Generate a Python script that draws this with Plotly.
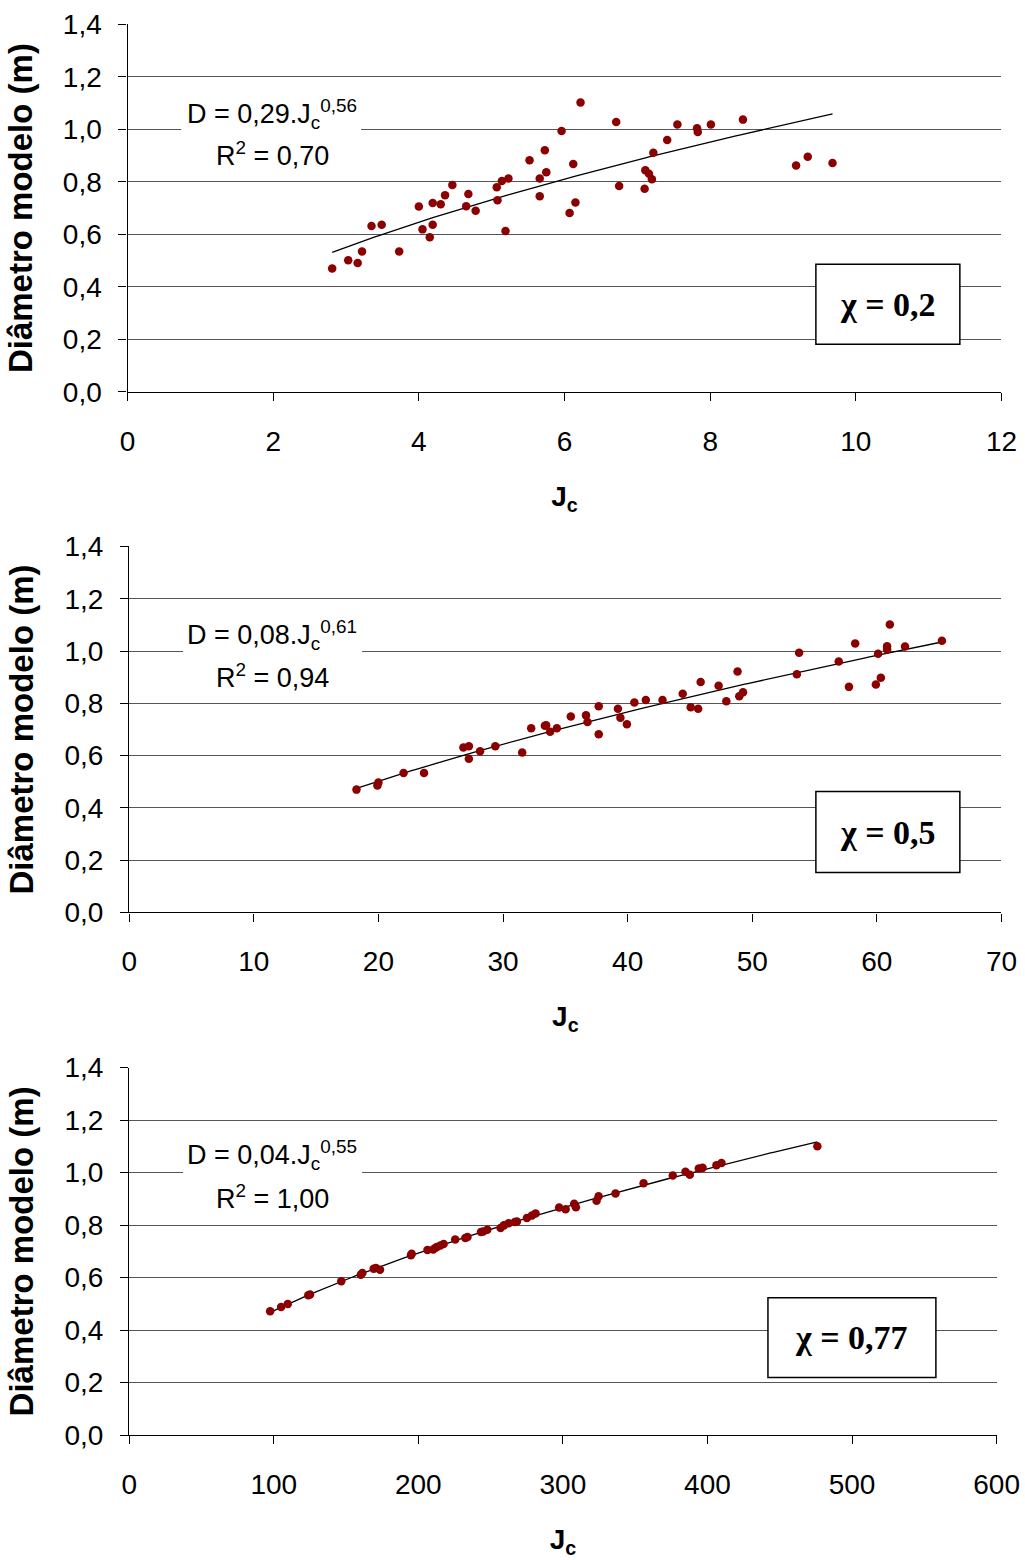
import numpy as np
import plotly.graph_objects as go

# ---------------- data ----------------
# Panel 1 (chi = 0,2)
J1 = [2.81, 3.03, 3.16, 3.22, 3.35, 3.49, 3.73, 4.00, 4.05, 4.15, 4.19, 4.19, 4.30, 4.36, 4.46,
      4.65, 4.68, 4.78, 5.07, 5.08, 5.14, 5.19, 5.23, 5.52, 5.66, 5.66, 5.73, 5.75, 5.96, 6.07,
      6.12, 6.15, 6.22, 6.71, 6.75, 7.10, 7.11, 7.16, 7.20, 7.22, 7.41, 7.55, 7.82, 7.83, 8.01,
      8.45, 9.18, 9.34, 9.68]
D1 = [0.470, 0.501, 0.491, 0.535, 0.632, 0.637, 0.535, 0.706, 0.619, 0.589, 0.719, 0.637, 0.715,
      0.749, 0.788, 0.707, 0.754, 0.690, 0.779, 0.730, 0.803, 0.613, 0.813, 0.882, 0.745, 0.813,
      0.920, 0.837, 0.994, 0.681, 0.868, 0.721, 1.102, 1.028, 0.784, 0.774, 0.844, 0.831, 0.810,
      0.911, 0.959, 1.018, 1.004, 0.990, 1.018, 1.037, 0.862, 0.896, 0.872]

# Panel 2 (chi = 0,5)
J2 = [18.24, 19.92, 20.00, 22.02, 23.66, 26.82, 27.26, 27.26, 28.16, 29.38, 31.54, 32.26, 33.36,
      33.46, 33.78, 34.32, 35.44, 36.66, 36.78, 37.68, 37.68, 39.22, 39.42, 39.94, 40.54, 41.46,
      42.80, 44.42, 45.06, 45.66, 45.86, 47.30, 47.92, 48.82, 48.96, 49.26, 53.58, 53.76, 56.94,
      57.76, 58.26, 59.92, 60.10, 60.32, 60.82, 60.82, 61.04, 62.26, 65.22]
D2 = [0.470, 0.486, 0.497, 0.534, 0.534, 0.631, 0.636, 0.588, 0.617, 0.636, 0.612, 0.705, 0.714,
      0.716, 0.691, 0.705, 0.750, 0.754, 0.729, 0.789, 0.682, 0.779, 0.745, 0.720, 0.803, 0.813,
      0.813, 0.837, 0.785, 0.779, 0.882, 0.867, 0.808, 0.922, 0.827, 0.842, 0.911, 0.994, 0.960,
      0.863, 1.029, 0.872, 0.990, 0.898, 1.018, 1.006, 1.102, 1.017, 1.039]

# Panel 3 (chi = 0,77)
J3 = [97.5, 105.1, 109.7, 123.9, 125.1, 146.7, 160.2, 161.3, 169.1, 170.7, 173.5, 194.9, 195.4,
      206.3, 210.3, 211.9, 212.9, 215.2, 217.5, 225.5, 232.5, 234.0, 243.3, 244.9, 247.7, 256.9,
      259.2, 262.5, 266.8, 268.2, 275.1, 278.6, 281.1, 297.4, 301.9, 307.8, 309.0, 323.3, 324.7,
      336.4, 355.8, 376.0, 384.8, 387.8, 394.0, 396.6, 406.2, 409.7, 476.0]
D3 = [0.472, 0.488, 0.500, 0.533, 0.536, 0.586, 0.611, 0.618, 0.634, 0.637, 0.630, 0.685, 0.691,
      0.705, 0.707, 0.714, 0.717, 0.722, 0.728, 0.745, 0.751, 0.755, 0.774, 0.776, 0.782, 0.789,
      0.799, 0.807, 0.812, 0.814, 0.827, 0.837, 0.844, 0.867, 0.860, 0.881, 0.868, 0.893, 0.910,
      0.920, 0.959, 0.989, 1.003, 0.992, 1.016, 1.018, 1.028, 1.037, 1.100]

EQ_LINE1 = ["D = 0,29.J<sub>c</sub><sup>0,56</sup>",
            "D = 0,08.J<sub>c</sub><sup>0,61</sup>",
            "D = 0,04.J<sub>c</sub><sup>0,55</sup>"]
EQ_LINE2 = ["R<sup>2</sup> = 0,70", "R<sup>2</sup> = 0,94", "R<sup>2</sup> = 1,00"]
CHI_LABELS = ["χ = 0,2", "χ = 0,5", "χ = 0,77"]
X_RANGES = [(0, 12, 2), (0, 70, 10), (0, 600, 100)]

W, H = 1040, 1568

# layout in figure pixels: plot areas (left, right, top, bottom)
AREAS = [(123.2, 1024, 9.5, 384.5), (124.9, 1024, 542.2, 915.6), (124.9, 1019, 1073.8, 1448.8)]
CHI_BOXES = [(832.7, 981.1, 254.4, 336.0), (832.7, 981.1, 792.2, 874.8),
             (783.3, 956.4, 1308.5, 1390.1)]
EQ_BOXES = [(178.5, 363.9, 81.0, 160.5), (180.5, 365.0, 611.6, 693.2),
            (180.5, 365.0, 1142.2, 1223.8)]
EQ_ROWS = [(101.3, 142.2), (632.0, 674.8), (1162.6, 1205.4)]
EQ_X = [272.2, 272.2, 272.2]


def px(x):
    return x / W


def py(y):
    return 1 - y / H


MARKER_COLOR = "#8B0000"
FONT = "Liberation Sans, Arial, sans-serif"

fig = go.Figure()
panels = [(J1, D1), (J2, D2), (J3, D3)]

for i, (J, D) in enumerate(panels):
    n = "" if i == 0 else str(i + 1)
    xa, ya = "x" + n, "y" + n
    Ja, Da = np.array(J), np.array(D)
    # Excel-style power trendline (log-log least squares)
    b, lna = np.polyfit(np.log(Ja), np.log(Da), 1)
    xs = np.linspace(Ja.min(), Ja.max(), 200)
    ys = np.exp(lna) * xs ** b
    fig.add_trace(go.Scatter(x=xs, y=ys, mode="lines", xaxis=xa, yaxis=ya,
                             line=dict(color="black", width=1.3), showlegend=False,
                             hoverinfo="skip"))
    fig.add_trace(go.Scatter(x=J, y=D, mode="markers", xaxis=xa, yaxis=ya,
                             marker=dict(color=MARKER_COLOR, size=8.5), showlegend=False))

    l, r, t, btm = AREAS[i]
    x0, x1, dx = X_RANGES[i]
    fig.layout["xaxis" + n] = dict(
        domain=[px(l), px(r)], range=[x0, x1], dtick=dx, tick0=0, anchor=ya,
        showgrid=False, zeroline=False, showline=True, linecolor="black", linewidth=1.3,
        ticks="outside", ticklen=8, tickcolor="black", tickwidth=1,
        ticklabelstandoff=16, ticklabeloverflow="allow",
        tickfont=dict(family=FONT, size=28, color="black"),
        title=dict(text="<b>J<sub>c</sub></b>", standoff=30,
                   font=dict(family=FONT, size=28, color="black")),
        fixedrange=True,
    )
    fig.layout["yaxis" + n] = dict(
        domain=[py(btm), py(t)], range=[0, 1.4], dtick=0.2, tick0=0, anchor=xa,
        tickformat=".1f",
        showgrid=True, gridcolor="#555555", gridwidth=1,
        zeroline=False, showline=True, linecolor="black", linewidth=1.3,
        ticks="outside", ticklen=8, tickcolor="black", tickwidth=1,
        ticklabelstandoff=11, ticklabeloverflow="allow",
        tickfont=dict(family=FONT, size=28, color="black"),
        title=dict(text="<b>Diâmetro modelo (m)</b>", standoff=20,
                   font=dict(family=FONT, size=33, color="black")),
        fixedrange=True,
    )

    # equation label: white panel hiding the gridline, then two text rows
    el, er, et, eb = EQ_BOXES[i]
    fig.add_shape(type="rect", xref="paper", yref="paper",
                  x0=px(el), x1=px(er), y0=py(eb), y1=py(et),
                  line=dict(width=0), fillcolor="white", layer="above")
    for txt, ry in ((EQ_LINE1[i], EQ_ROWS[i][0]), (EQ_LINE2[i], EQ_ROWS[i][1])):
        fig.add_annotation(x=px(EQ_X[i]), y=py(ry), xref="paper", yref="paper",
                           text=txt, showarrow=False, align="center",
                           font=dict(family=FONT, size=27, color="black"),
                           xanchor="center", yanchor="middle")

    # chi box
    bl, br, bt, bb = CHI_BOXES[i]
    fig.add_shape(type="rect", xref="paper", yref="paper",
                  x0=px(bl), x1=px(br), y0=py(bb), y1=py(bt),
                  line=dict(color="black", width=1.5), fillcolor="white", layer="above")
    fig.add_annotation(x=px((bl + br) / 2), y=py((bt + bb) / 2), xref="paper", yref="paper",
                       text="<b>" + CHI_LABELS[i] + "</b>", showarrow=False,
                       font=dict(family="Liberation Serif, Times New Roman, serif", size=34,
                                 color="black"),
                       xanchor="center", yanchor="middle")

fig.update_layout(
    width=W, height=H,
    margin=dict(l=0, r=0, t=0, b=0),
    paper_bgcolor="white", plot_bgcolor="white",
    separators=",.",
    showlegend=False,
)

fig.write_html("out.html")
